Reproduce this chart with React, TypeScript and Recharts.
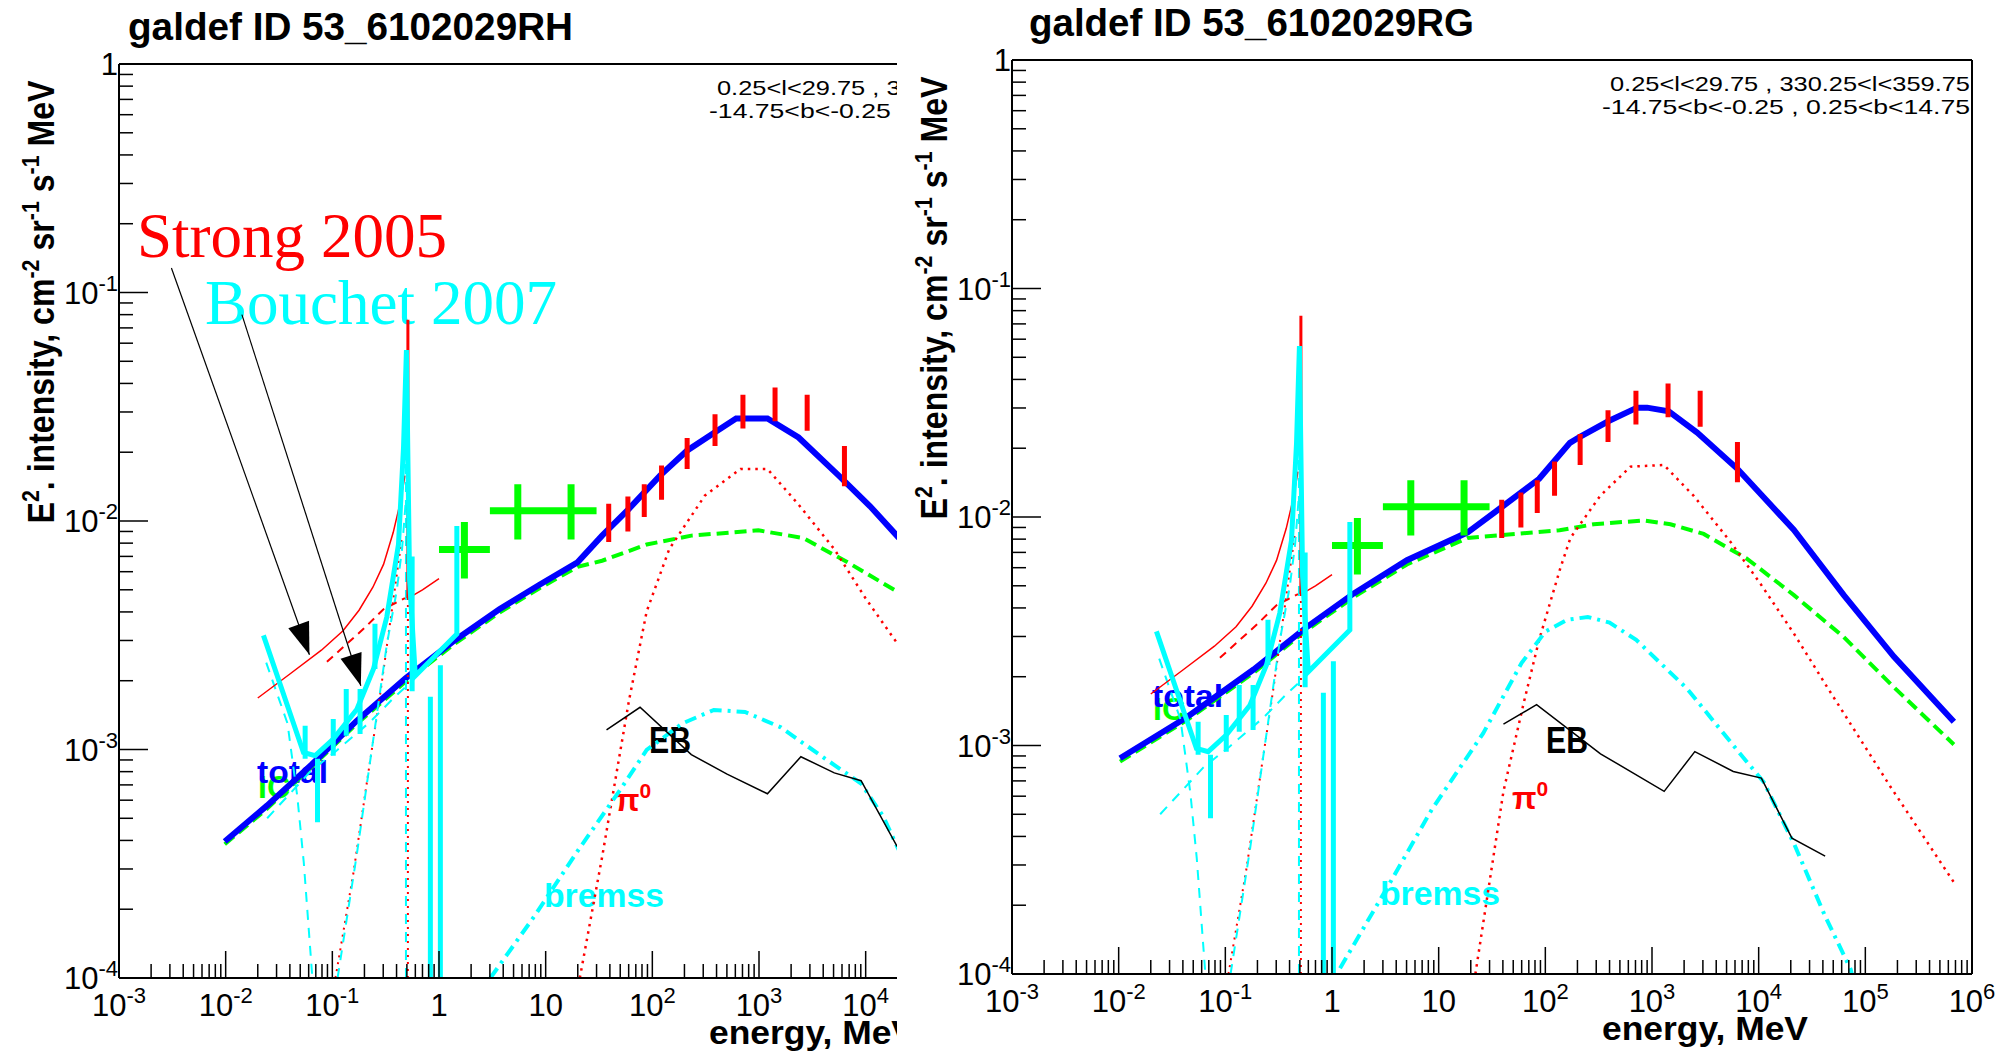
import React from 'react';
import { ComposedChart, Line, XAxis, YAxis, ReferenceLine } from 'recharts';

type Pt = [number, number];

// axis decades, minor multipliers
const X_DECADES = [-3, -2, -1, 0, 1, 2, 3, 4, 5, 6];
const Y_DECADES = [-4, -3, -2, -1, 0];
const MINOR = [1, 2, 3, 4, 5, 6, 7, 8, 9];

// ---- model spectra, galdef 53_6102029RH (left panel)  [E MeV, E^2 I]
const RH_TOTAL: Pt[] = [
  [0.0098, 3.96e-4], [0.0244, 5.68e-4], [0.0641, 8.6e-4], [0.168, 1.33e-3], [0.485, 2.05e-3],
  [1.4, 3.0e-3], [3.68, 4.11e-3], [8.75, 5.26e-3], [19.9, 6.59e-3], [33.8, 8.63e-3],
  [60.3, 0.0113], [118, 0.0158], [211, 0.0203], [377, 0.0243], [610, 0.0281], [1200, 0.0281],
  [2350, 0.0232], [5600, 0.0158], [11000, 0.0116], [19600, 8.63e-3], [40000, 5.9e-3],
];
const RH_IC: Pt[] = [
  [0.0098, 3.85e-4], [0.0244, 5.5e-4], [0.0641, 8.4e-4], [0.168, 1.29e-3], [0.485, 1.98e-3],
  [1.4, 2.9e-3], [3.68, 3.97e-3], [8.75, 5.08e-3], [19.9, 6.3e-3], [33.8, 6.7e-3], [88.5, 7.89e-3],
  [232, 8.63e-3], [986, 9.1e-3], [2590, 8.43e-3], [6790, 6.59e-3], [19600, 4.92e-3], [40000, 3.6e-3],
];
const RH_PI0: Pt[] = [
  [20.9, 1e-4], [33.8, 3.38e-4], [60.3, 1.63e-3], [88.5, 4.02e-3], [144, 7.53e-3], [310, 0.0129],
  [671, 0.0169], [1200, 0.0169], [2350, 0.0118], [5080, 7.53e-3], [9980, 4.59e-3], [19600, 2.93e-3],
  [40000, 1.75e-3],
];
const RH_BREMSS: Pt[] = [
  [3.03, 1e-4], [7.94, 1.88e-4], [20.8, 3.7e-4], [49.7, 6.64e-4], [88.5, 9.95e-4], [191, 1.3e-3],
  [377, 1.49e-3], [740, 1.46e-3], [1600, 1.25e-3], [4190, 9.1e-4], [9060, 7.1e-4], [14700, 5.07e-4],
  [19600, 3.78e-4], [40000, 2.0e-4],
];
const RH_EB: Pt[] = [
  [37.2, 1.22e-3], [76.7, 1.53e-3], [232, 9.5e-4], [502, 7.8e-4], [1200, 6.4e-4], [2470, 9.3e-4],
  [5080, 7.9e-4], [9060, 7.3e-4], [19600, 3.78e-4], [40000, 3.2e-4],
];

// ---- model spectra, galdef 53_6102029RG (right panel)
const RG_TOTAL: Pt[] = [
  [0.0103, 8.8e-4], [0.0435, 1.33e-3], [0.184, 2.15e-3], [0.58, 3.3e-3], [1.59, 4.62e-3],
  [5.04, 6.47e-3], [18.7, 8.57e-3], [40.5, 0.0112], [87.5, 0.0147], [170, 0.0211], [213, 0.0225],
  [393, 0.0263], [724, 0.0301], [900, 0.0301], [1435, 0.029], [2650, 0.0234], [6280, 0.0163],
  [21400, 8.77e-3], [62800, 4.55e-3], [185000, 2.45e-3], [676000, 1.27e-3],
];
const RG_IC: Pt[] = [
  [0.0103, 8.5e-4], [0.0435, 1.29e-3], [0.184, 2.08e-3], [0.58, 3.2e-3], [1.59, 4.45e-3],
  [5.04, 6.2e-3], [18.7, 8.1e-3], [45.2, 8.38e-3], [136, 8.75e-3], [284, 9.29e-3], [836, 9.66e-3],
  [1490, 9.29e-3], [3050, 8.43e-3], [7800, 6.56e-3], [21400, 4.55e-3], [62800, 2.98e-3],
  [185000, 1.8e-3], [676000, 1.01e-3],
];
const RG_PI0: Pt[] = [
  [22.1, 1e-4], [40.5, 6.3e-4], [63, 1.55e-3], [87.5, 2.9e-3], [138, 5.96e-3], [172, 8.1e-3],
  [328, 0.0124], [628, 0.0166], [1290, 0.0169], [2450, 0.0124], [5430, 7.8e-3], [10400, 5.1e-3],
  [21400, 3.09e-3], [43900, 1.8e-3], [172000, 6.6e-4], [676000, 2.52e-4],
];
const RG_BREMSS: Pt[] = [
  [1.19, 1.06e-4], [3.21, 2.34e-4], [8.65, 5.26e-4], [26.1, 1.13e-3], [60, 2.3e-3], [100, 3.15e-3],
  [160, 3.55e-3], [250, 3.65e-3], [400, 3.45e-3], [711, 2.9e-3], [2140, 1.77e-3], [6460, 9.4e-4],
  [11200, 6.9e-4], [21700, 3.67e-4], [42000, 1.79e-4], [72800, 1.05e-4], [90000, 7e-5],
];
const RG_EB: Pt[] = [
  [40.5, 1.24e-3], [82.8, 1.51e-3], [329, 9.2e-4], [1300, 6.3e-4], [2520, 9.4e-4], [5780, 7.7e-4],
  [10600, 7.2e-4], [20500, 3.93e-4], [42000, 3.28e-4],
];

// ---- EGRET points (red bars)
const EGRET_E = [39, 59, 84, 122, 212, 387, 707, 1414, 2828, 6325];
const EGRET_LO = [8.1e-3, 9.0e-3, 0.0104, 0.0124, 0.0169, 0.0213, 0.0254, 0.0273, 0.0248, 0.0142];
const EGRET_HI = [0.0119, 0.0128, 0.0145, 0.0175, 0.0231, 0.0293, 0.0357, 0.0384, 0.0357, 0.0213];

// ---- COMPTEL crosses (green)
const COMPTEL_E = [1.73, 5.48, 17.3];
const COMPTEL_ELO = [1, 3, 10];
const COMPTEL_EHI = [3, 10, 30];
const COMPTEL_I = [7.5e-3, 0.0111, 0.0111];
const COMPTEL_ILO = [5.6e-3, 8.3e-3, 8.3e-3];
const COMPTEL_IHI = [9.9e-3, 0.0145, 0.0145];

// ---- Strong 2005 (red)
const STRONG_CURVE: Pt[] = [
  [0.02, 1.68e-3], [0.04, 2.14e-3], [0.079, 2.72e-3], [0.126, 3.31e-3], [0.178, 4.07e-3],
  [0.24, 5.13e-3], [0.302, 6.46e-3], [0.372, 8.9e-3], [0.427, 0.0117], [0.468, 0.0148], [0.479, 0.0158],
];
const STRONG_PL: Pt[] = [[0.089, 2.42e-3], [0.2, 3.4e-3], [0.3, 4.1e-3], [0.48, 4.6e-3]];
const STRONG_PL_HI: Pt[] = [[0.515, 4.6e-3], [0.7, 5.0e-3], [1.0, 5.6e-3]];
const STRONG_LINE: Pt[] = [[0.511, 4.6e-3], [0.511, 0.076]];
const STRONG_LINE_LOW: Pt[] = [[0.511, 1e-4], [0.511, 4.6e-3]];
const STRONG_PS: Pt[] = [
  [0.107, 1e-4], [0.158, 2.9e-4], [0.211, 7.2e-4], [0.281, 1.75e-3], [0.37, 4.4e-3], [0.45, 8.5e-3],
];

// ---- Bouchet 2007 (cyan)
const BOUCHET_DATA: Pt[] = [
  [0.0226, 3.16e-3], [0.0536, 9.7e-4], [0.069, 9.4e-4], [0.102, 1.11e-3], [0.17, 1.5e-3],
  [0.243, 2.25e-3], [0.324, 3.8e-3], [0.417, 7.9e-3], [0.465, 0.021], [0.495, 0.056], [0.53, 5.5e-3],
  [0.6, 2.1e-3], [1.47, 3.2e-3], [1.47, 9.5e-3],
];
const BOUCHET_BAR_E = [0.0556, 0.0726, 0.102, 0.135, 0.182, 0.251, 0.56, 0.83, 1.03];
const BOUCHET_BAR_LO = [9.1e-4, 4.8e-4, 9.4e-4, 1.15e-3, 1.17e-3, 2.25e-3, 1.8e-3, 1e-5, 1e-5];
const BOUCHET_BAR_HI = [1.27e-3, 9.1e-4, 1.36e-3, 1.84e-3, 1.84e-3, 3.55e-3, 7.0e-3, 1.7e-3, 2.34e-3];
const BOUCHET_DROP: Pt[] = [[0.024, 2.4e-3], [0.038, 1.3e-3], [0.047, 6.2e-4], [0.054, 3.2e-4], [0.065, 1.0e-4]];
const BOUCHET_PL: Pt[] = [[0.0245, 5.0e-4], [0.062, 8.0e-4], [0.11, 9.9e-4], [0.23, 1.33e-3], [0.38, 1.69e-3], [0.5, 1.9e-3]];
const BOUCHET_PS: Pt[] = [[0.112, 1.0e-4], [0.17, 3.5e-4], [0.26, 1.4e-3], [0.325, 2.9e-3], [0.4, 4.9e-3], [0.45, 7.5e-3], [0.49, 0.0125]];
const BOUCHET_LINE: Pt[] = [[0.49, 1e-4], [0.49, 0.02]];

// annotation arrows (left panel)
const ARROW_STRONG: Pt[] = [[0.0031, 0.128], [0.061, 2.6e-3]];
const ARROW_BOUCHET: Pt[] = [[0.0142, 0.08], [0.185, 1.9e-3]];

const W = 1116;
const H = 1055;
const SANS = '"Liberation Sans", Arial, Helvetica, sans-serif';
const SERIF = '"Liberation Serif", "Times New Roman", serif';
const C = { blue: '#0000ff', green: '#00ff00', red: '#ff0000', cyan: '#00ffff', black: '#000000' };

const logTicks = (decs: number[]) => {
  const out: number[] = [];
  decs.forEach((d, i) => {
    if (i === decs.length - 1) {
      out.push(Math.pow(10, d));
      return;
    }
    MINOR.forEach((m) => out.push(Number((m * Math.pow(10, d)).toPrecision(6))));
  });
  return out;
};
const X_TICKS = logTicks(X_DECADES);
const Y_TICKS = logTicks(Y_DECADES);

const pts = (a: Pt[]) => a.map(([x, y]) => ({ x, y }));
const vbars = (xs: number[], lo: number[], hi: number[]) =>
  xs.flatMap((x, i) => [{ x, y: lo[i] }, { x, y: hi[i] }, { x, y: null }]);
const hbars = (ys: number[], x0: number[], x1: number[]) =>
  ys.flatMap((y, i) => [{ x: x0[i], y }, { x: x1[i], y }, { x: x1[i], y: null }]);

const decadeOf = (v: number) => {
  const lg = Math.log10(v);
  const d = Math.round(lg);
  return { d, major: Math.abs(lg - d) < 1e-6 };
};

const Pow10 = ({ x, y, d, anchor }: { x: number; y: number; d: number; anchor: string }) => (
  <text x={x} y={y} textAnchor={anchor} fontFamily={SANS} fontSize={31} fill="#000">
    {d === 0 ? '1' : d === 1 ? '10' : (
      <>
        10<tspan dy={-13} fontSize={22}>{d}</tspan>
      </>
    )}
  </text>
);

const XTick = (props: any) => {
  const { x, y, payload } = props;
  const { d, major } = decadeOf(payload.value);
  return (
    <g>
      <line x1={x} x2={x} y1={y} y2={y - (major ? 27 : 14)} stroke="#000" strokeWidth={1.5} />
      {major && <Pow10 x={x} y={y + 38} d={d} anchor="middle" />}
    </g>
  );
};

const YTick = (props: any) => {
  const { x, y, payload } = props;
  const { d, major } = decadeOf(payload.value);
  return (
    <g>
      <line x1={x} x2={x + (major ? 29 : 14)} y1={y} y2={y} stroke="#000" strokeWidth={1.5} />
      {major && <Pow10 x={x - 1} y={y + 11} d={d} anchor="end" />}
    </g>
  );
};

// filled triangle at the arrow tip
const arrowHead = (p: any) => {
  const { cx, cy, index, points } = p;
  if (index !== 1 || cx == null) return <g key={`ah-${index}`} />;
  let dx = 0.33;
  let dy = 0.94;
  if (points && points[0]) {
    const ux = cx - points[0].x;
    const uy = cy - points[0].y;
    const L = Math.hypot(ux, uy) || 1;
    dx = ux / L;
    dy = uy / L;
  }
  const len = 32;
  const hw = 11;
  const bx = cx - dx * len;
  const by = cy - dy * len;
  return (
    <polygon
      key={`ah-${index}`}
      points={`${cx},${cy} ${bx - dy * hw},${by + dx * hw} ${bx + dy * hw},${by - dx * hw}`}
      fill="#000"
    />
  );
};

const ln = (key: string, data: any[], stroke: string, width: number, dash?: string, dot: any = false) => (
  <Line
    key={key}
    data={data}
    dataKey="y"
    type="linear"
    stroke={stroke}
    strokeWidth={width}
    strokeDasharray={dash}
    dot={dot}
    activeDot={false}
    legendType="none"
    connectNulls={false}
    isAnimationActive={false}
  />
);

interface Model {
  total: Pt[];
  ic: Pt[];
  pi0: Pt[];
  bremss: Pt[];
  eb: Pt[];
}
interface Labels {
  total: [number, number];
  ic: [number, number];
  eb: [number, number];
  pi0: [number, number];
  bremss: [number, number];
}

function Panel({ title, titleX, model, labels, notes }: { title: string; titleX: number; model: Model; labels: Labels; notes: boolean }) {
  const lab = { fontFamily: SANS, fontWeight: 'bold' as const, lengthAdjust: 'spacingAndGlyphs' };
  return (
    <div style={{ position: 'relative', width: W, height: H }}>
      <svg width={W} height={H} style={{ position: 'absolute', left: 0, top: 0 }}>
        <text x={titleX} y={36} {...lab} fontSize={38} textLength={445}>{title}</text>
        <text x={1077} y={91} textAnchor="end" fontFamily={SANS} fontSize={21} textLength={360} lengthAdjust="spacingAndGlyphs">
          {'0.25<l<29.75 , 330.25<l<359.75'}
        </text>
        <text x={1077} y={114} textAnchor="end" fontFamily={SANS} fontSize={21} textLength={368} lengthAdjust="spacingAndGlyphs">
          {'-14.75<b<-0.25 ,  0.25<b<14.75'}
        </text>
        <text transform="translate(54,298) rotate(-90)" textAnchor="middle" {...lab} fontSize={36} textLength={443}>
          E<tspan dy={-15} fontSize={24}>2</tspan>
          <tspan dy={15}>. intensity, cm</tspan>
          <tspan dy={-15} fontSize={24}>-2</tspan>
          <tspan dy={15}> sr</tspan>
          <tspan dy={-15} fontSize={24}>-1</tspan>
          <tspan dy={15}> s</tspan>
          <tspan dy={-15} fontSize={24}>-1</tspan>
          <tspan dy={15}> MeV</tspan>
        </text>
        <text x={709} y={1040} {...lab} fontSize={34} textLength={206}>energy, MeV</text>

        <text x={labels.ic[0]} y={labels.ic[1]} {...lab} fill={C.green} fontSize={32} textLength={32}>IC</text>
        <text x={labels.total[0]} y={labels.total[1]} {...lab} fill={C.blue} fontSize={32} textLength={71}>total</text>
        <text x={labels.eb[0]} y={labels.eb[1]} {...lab} fill={C.black} fontSize={36} textLength={42}>EB</text>
        <text x={labels.pi0[0]} y={labels.pi0[1]} fontFamily={SANS} fontWeight="bold" fill={C.red} fontSize={32}>
          π<tspan dy={-13} fontSize={21}>0</tspan>
        </text>
        <text x={labels.bremss[0]} y={labels.bremss[1]} {...lab} fill={C.cyan} fontSize={34} textLength={120}>bremss</text>

        {notes && (
          <>
            <text x={137} y={253} fontFamily={SERIF} fontSize={64} fill={C.red} textLength={310} lengthAdjust="spacingAndGlyphs">
              Strong 2005
            </text>
            <text x={205} y={320} fontFamily={SERIF} fontSize={64} fill={C.cyan} textLength={352} lengthAdjust="spacingAndGlyphs">
              Bouchet 2007
            </text>
          </>
        )}
      </svg>
      <div style={{ position: 'absolute', left: 0, top: 0 }}>
        <ComposedChart width={W} height={H} margin={{ top: 60, right: 37, bottom: 0, left: 0 }}>
          <XAxis
            dataKey="x"
            type="number"
            scale="log"
            domain={[1e-3, 1e6]}
            allowDataOverflow
            ticks={X_TICKS}
            interval={0}
            tick={XTick}
            tickLine={false}
            tickSize={0}
            tickMargin={0}
            height={81}
            axisLine={{ stroke: '#000', strokeWidth: 2 }}
          />
          <YAxis
            type="number"
            scale="log"
            domain={[1e-4, 1]}
            allowDataOverflow
            ticks={Y_TICKS}
            interval={0}
            tick={YTick}
            tickLine={false}
            tickSize={0}
            tickMargin={0}
            width={119}
            axisLine={{ stroke: '#000', strokeWidth: 2 }}
          />
          <ReferenceLine y={1} stroke="#000" strokeWidth={2} />
          <ReferenceLine x={1e6} stroke="#000" strokeWidth={2} />

          {ln('ic', pts(model.ic), C.green, 4, '12 6')}
          {ln('pi0', pts(model.pi0), C.red, 2.5, '2.5 5')}
          {ln('bremss', pts(model.bremss), C.cyan, 4, '12 6 3 6')}
          {ln('eb', pts(model.eb), C.black, 1.5)}
          {ln('total', pts(model.total), C.blue, 6)}

          {ln('egret', vbars(EGRET_E, EGRET_LO, EGRET_HI), C.red, 5)}
          {ln('comptel-v', vbars(COMPTEL_E, COMPTEL_ILO, COMPTEL_IHI), C.green, 7)}
          {ln('comptel-h', hbars(COMPTEL_I, COMPTEL_ELO, COMPTEL_EHI), C.green, 7)}

          {ln('strong-ps', pts(STRONG_PS), C.red, 2, '2 5')}
          {ln('strong-low', pts(STRONG_LINE_LOW), C.red, 2, '2 5')}
          {ln('bouchet-drop', pts(BOUCHET_DROP), C.cyan, 2, '10 8')}
          {ln('bouchet-pl', pts(BOUCHET_PL), C.cyan, 2, '10 8')}
          {ln('bouchet-ps', pts(BOUCHET_PS), C.cyan, 2, '10 8')}
          {ln('bouchet-line', pts(BOUCHET_LINE), C.cyan, 2, '10 8')}
          {ln('strong-curve', pts(STRONG_CURVE), C.red, 1.5)}
          {ln('strong-pl', pts(STRONG_PL), C.red, 2, '8 6')}
          {ln('strong-pl-hi', pts(STRONG_PL_HI), C.red, 1.5)}
          {ln('strong-line', pts(STRONG_LINE), C.red, 3)}
          {ln('bouchet-data', pts(BOUCHET_DATA), C.cyan, 5)}
          {ln('bouchet-bars', vbars(BOUCHET_BAR_E, BOUCHET_BAR_LO, BOUCHET_BAR_HI), C.cyan, 5)}

          {notes && ln('arrow-strong', pts(ARROW_STRONG), C.black, 1.2, undefined, arrowHead)}
          {notes && ln('arrow-bouchet', pts(ARROW_BOUCHET), C.black, 1.2, undefined, arrowHead)}
        </ComposedChart>
      </div>
    </div>
  );
}

const RH_MODEL: Model = { total: RH_TOTAL, ic: RH_IC, pi0: RH_PI0, bremss: RH_BREMSS, eb: RH_EB };
const RG_MODEL: Model = { total: RG_TOTAL, ic: RG_IC, pi0: RG_PI0, bremss: RG_BREMSS, eb: RG_EB };

export default function App() {
  return (
    <div style={{ position: 'fixed', left: 0, top: 0, width: 2009, height: 1055, background: '#fff', overflow: 'hidden' }}>
      <div style={{ position: 'absolute', left: 0, top: 4, width: 897, height: 1051, overflow: 'hidden' }}>
        <Panel
          title="galdef ID 53_6102029RH"
          titleX={128}
          model={RH_MODEL}
          notes
          labels={{ total: [257, 779], ic: [258, 794], eb: [649, 749], pi0: [615, 807], bremss: [544, 903] }}
        />
      </div>
      <div style={{ position: 'absolute', left: 893, top: 0 }}>
        <Panel
          title="galdef ID 53_6102029RG"
          titleX={136}
          model={RG_MODEL}
          notes={false}
          labels={{ total: [259, 707], ic: [260, 720], eb: [653, 753], pi0: [619, 809], bremss: [487, 905] }}
        />
      </div>
    </div>
  );
}
